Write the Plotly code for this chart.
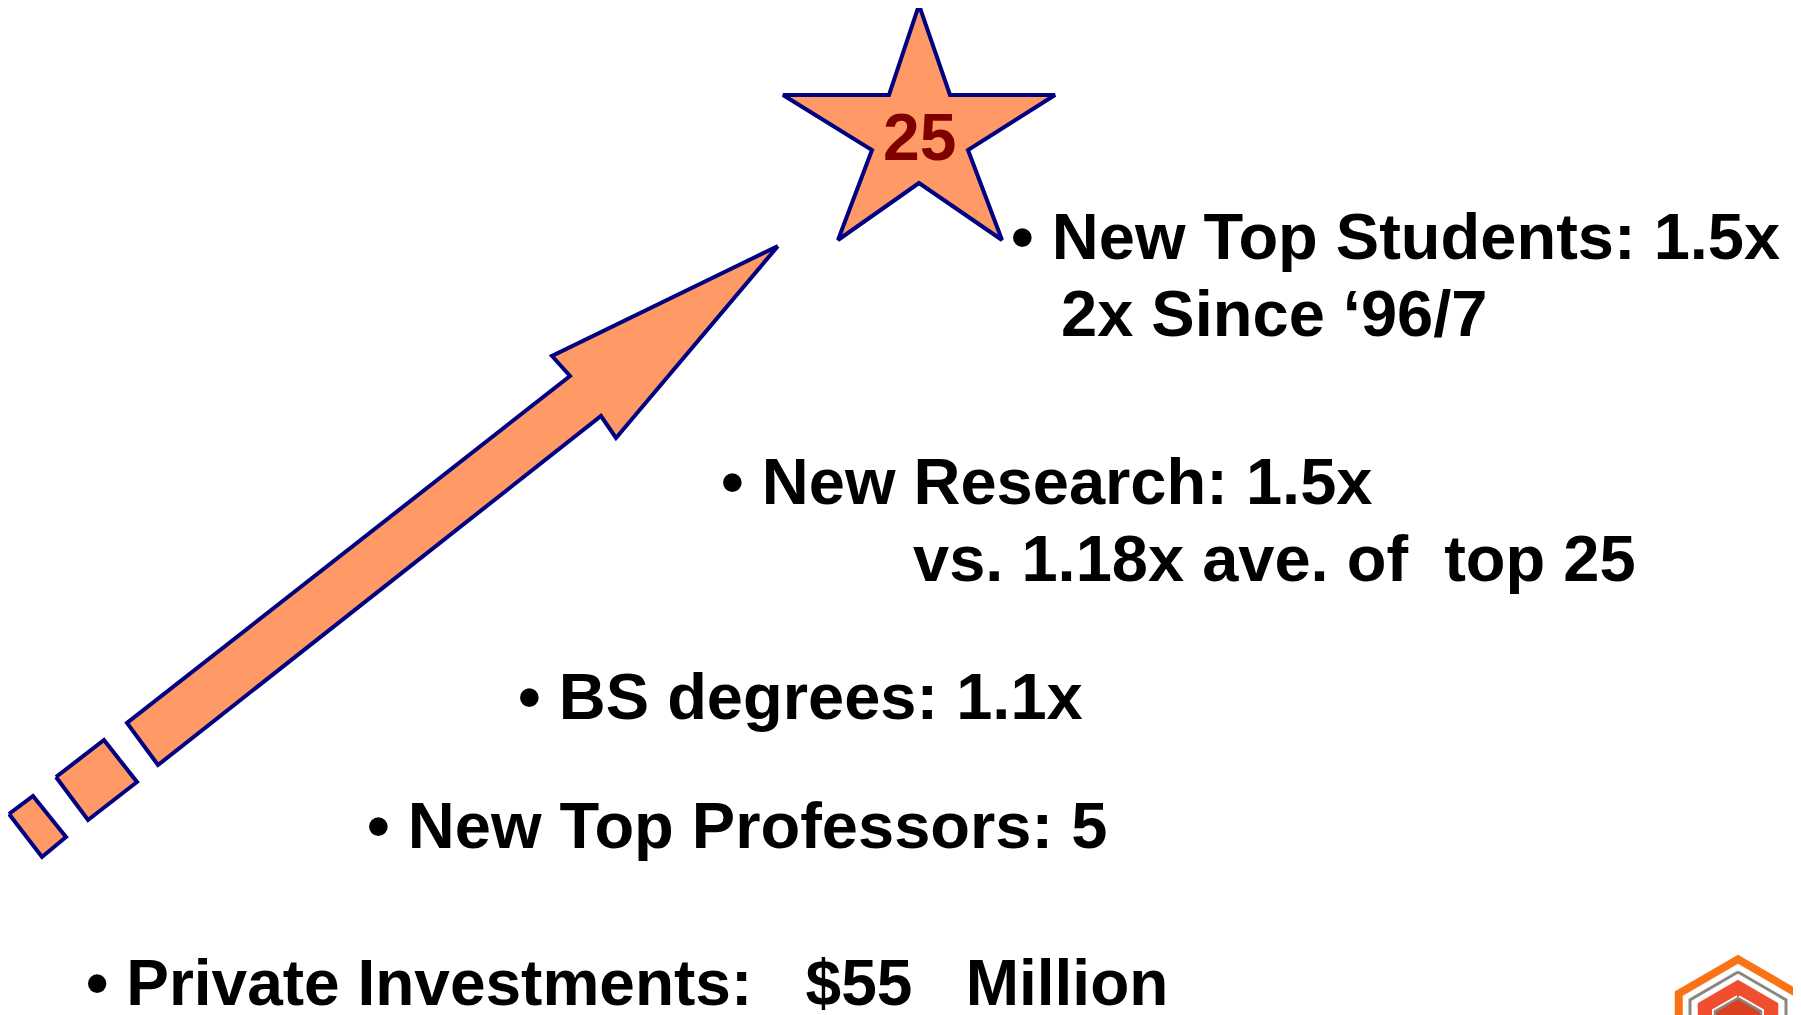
import plotly.graph_objects as go

W, H = 1801, 1015
PAGE_MARGIN = 8  # default body margin of the html page

# ---- geometry of the drawing (pixel space, y grows downward) ----
star_x = [919, 950, 1055, 968, 1002, 919, 838, 872, 783, 889, 919]
star_y = [5, 95, 95, 150, 240, 183, 240, 150, 95, 95, 5]
star_label = "25"
star_label_pos = (919, 137)

arrow_x = [778, 616, 601, 158, 127, 570, 552, 778]
arrow_y = [246, 438, 416, 765, 723, 376, 356, 246]

square2_x = [56, 104, 137, 88, 56]
square2_y = [777, 740, 782, 820, 777]
square1_x = [9, 33, 66, 42, 9]
square1_y = [814, 796, 837, 857, 814]

# bullet texts: (text, x_left, y_center)
bullet_texts = [
    "\u2022 New Top Students: 1.5x",
    "2x Since \u201896/7",
    "\u2022 New Research: 1.5x",
    "vs. 1.18x ave. of\u00a0\u00a0top 25",
    "\u2022 BS degrees: 1.1x",
    "\u2022 New Top Professors: 5",
    "\u2022 Private Investments:\u00a0\u00a0\u00a0$55\u00a0\u00a0\u00a0Million",
]
text_x = [1009, 1059, 719, 911, 516, 365, 84]
text_y = [236, 313, 481, 558, 696, 825, 983]
text_size = [65, 65, 65, 65, 65, 65, 64]

# logo hexagons: (center x, top y, half width)
logo_cx = 1738
hex_top = [955, 964, 972, 980, 998]
hex_half = [63, 55, 48, 40, 23]

ORANGE = "#FF9966"
NAVY = "#000080"

fig = go.Figure()

def poly(xs, ys, fill, line_color, lw):
    fig.add_trace(go.Scatter(
        x=xs, y=ys, mode="lines", fill="toself", fillcolor=fill,
        line=dict(color=line_color, width=lw), hoverinfo="skip", showlegend=False))

poly(arrow_x, arrow_y, ORANGE, NAVY, 4)
poly(square2_x, square2_y, ORANGE, NAVY, 4)
poly(square1_x, square1_y, ORANGE, NAVY, 4)
poly(star_x, star_y, ORANGE, NAVY, 4)

def hexagon(i):
    cx, t, w = logo_cx, hex_top[i], hex_half[i]
    c = t + w * 0.58
    return [cx, cx + w, cx + w, cx - w, cx - w, cx], [t, c, 1200, 1200, c, t]

hx, hy = hexagon(0); poly(hx, hy, "#F97316", "#F97316", 0.5)
hx, hy = hexagon(1); poly(hx, hy, "white", "white", 0.5)
hx, hy = hexagon(2); poly(hx, hy, "white", "#8C8680", 3)
hx, hy = hexagon(3); poly(hx, hy, "#EF4F2F", "#EF4F2F", 0.5)
hx, hy = hexagon(4); poly(hx, hy, "#EF4F2F", "white", 6)
hx, hy = hexagon(4); poly(hx, hy, "#D8401F", "#8C8680", 2.5)

FONT = "Liberation Sans, Arial, sans-serif"

annotations = [dict(
    x=star_label_pos[0], y=star_label_pos[1], text="<b>%s</b>" % star_label,
    showarrow=False, xanchor="center", yanchor="middle",
    font=dict(family=FONT, size=66, color="#800000"))]
for t, x, y, s in zip(bullet_texts, text_x, text_y, text_size):
    annotations.append(dict(
        x=x, y=y, text="<b>%s</b>" % t, showarrow=False,
        xanchor="left", yanchor="middle",
        font=dict(family=FONT, size=s, color="black")))

fig.update_layout(
    width=W, height=H,
    margin=dict(l=0, r=0, t=0, b=0),
    paper_bgcolor="white", plot_bgcolor="white",
    xaxis=dict(range=[PAGE_MARGIN, W + PAGE_MARGIN], visible=False, fixedrange=True),
    yaxis=dict(range=[H + PAGE_MARGIN, PAGE_MARGIN], visible=False, fixedrange=True),
    annotations=annotations,
    showlegend=False,
)

fig.write_html("out.html", config={"displayModeBar": False})
